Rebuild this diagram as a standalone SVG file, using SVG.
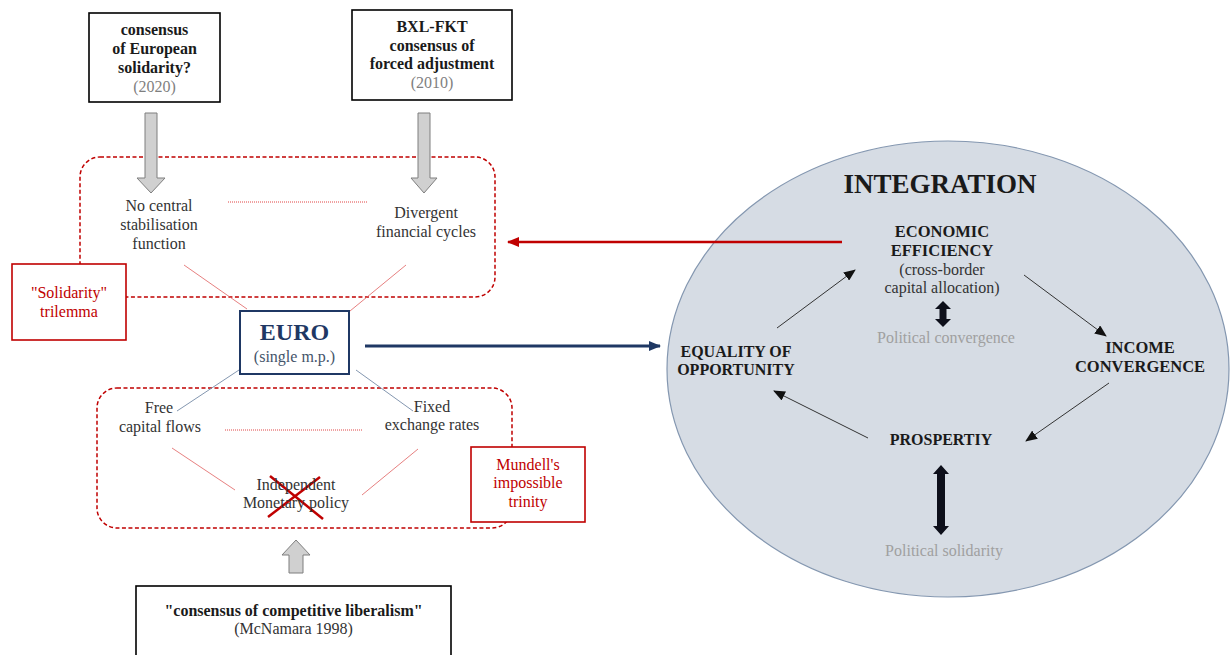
<svg xmlns="http://www.w3.org/2000/svg" width="1230" height="655" viewBox="0 0 1230 655">
<style>
text{font-family:"Liberation Serif","Times New Roman",serif;font-size:16px;fill:#333;text-anchor:middle}
.b{font-weight:bold;fill:#1a1a1a}
.g{fill:#7f7f7f}
.lg{fill:#a0a0a0}
.red{fill:#c00000}
.box{fill:#fff;stroke:#000;stroke-width:1.6}
.rbox{fill:#fff;stroke:#c00000;stroke-width:1.6}
.dash{fill:none;stroke:#c00000;stroke-width:1.5;stroke-dasharray:4 2.5}
.dot{stroke:#e04545;stroke-width:1;stroke-dasharray:1 1}
.thin{stroke:#e06060;stroke-width:0.8}
.bl{stroke:#8497b0;stroke-width:1}
.blk{stroke:#333;stroke-width:1;fill:none}
.gar{fill:#d0d0d0;stroke:#7f7f7f;stroke-width:1}
.dbl{fill:#0d0f1a}
</style>
<defs>
<marker id="mk" markerUnits="userSpaceOnUse" markerWidth="12" markerHeight="10" refX="11" refY="5" orient="auto"><path d="M0,0 L12,5 L0,10 z" fill="#111"/></marker>
<marker id="mr" markerUnits="userSpaceOnUse" markerWidth="12" markerHeight="10" refX="11" refY="5" orient="auto"><path d="M0,0 L12,5 L0,10 z" fill="#c00000"/></marker>
<marker id="mn" markerUnits="userSpaceOnUse" markerWidth="12" markerHeight="10" refX="11" refY="5" orient="auto"><path d="M0,0 L12,5 L0,10 z" fill="#1f3864"/></marker>
</defs>

<g id="integration">
<ellipse cx="948" cy="369" rx="281" ry="228" fill="#d6dce4" stroke="#8497b0" stroke-width="1.2"/>
<text x="940" y="193" class="b" style="font-size:27px">INTEGRATION</text>
</g>

<g id="frames">
<rect x="80" y="157" width="415" height="140" rx="20" class="dash"/>
<rect x="97" y="388" width="415" height="140" rx="20" class="dash"/>
</g>

<g id="connectors">
<line x1="228" y1="202" x2="367" y2="202" class="dot"/>
<line x1="184" y1="265" x2="247" y2="309" class="thin"/>
<line x1="406" y1="265" x2="350" y2="311" class="thin"/>
<line x1="225" y1="430" x2="363" y2="430" class="dot"/>
<line x1="172" y1="448" x2="235" y2="490" class="thin"/>
<line x1="418" y1="449" x2="362" y2="495" class="thin"/>
<line x1="239" y1="370" x2="177" y2="411" class="bl"/>
<line x1="356" y1="370" x2="413" y2="411" class="bl"/>
<line x1="270" y1="476" x2="323" y2="519" stroke="#c00000" stroke-width="2.5"/>
<line x1="320" y1="477" x2="268" y2="517" stroke="#c00000" stroke-width="2.5"/>
<polygon class="gar" points="145,113 157,113 157,178 165,178 151,193 137,178 145,178"/>
<polygon class="gar" points="418,113 430,113 430,178 437,178 424,193 411,178 418,178"/>
<polygon class="gar" points="289,573 303,573 303,555 310,555 296,540 282,555 289,555"/>
<line x1="842" y1="242" x2="508" y2="242" stroke="#c00000" stroke-width="2.5" marker-end="url(#mr)"/>
<line x1="365" y1="346" x2="660" y2="346" stroke="#1f3864" stroke-width="3" marker-end="url(#mn)"/>
<line x1="777" y1="328" x2="855" y2="270" class="blk" marker-end="url(#mk)"/>
<line x1="1024" y1="275" x2="1106" y2="336" class="blk" marker-end="url(#mk)"/>
<line x1="1109" y1="383" x2="1026" y2="441" class="blk" marker-end="url(#mk)"/>
<line x1="868" y1="438" x2="774" y2="391" class="blk" marker-end="url(#mk)"/>
<polygon class="dbl" points="943,301 951,309 946.5,309 946.5,319 951,319 943,327 935,319 939.5,319 939.5,309 935,309"/>
<polygon class="dbl" points="941,465 949,474 945,474 945,526 949,526 941,535 933,526 937,526 937,474 933,474"/>
</g>

<g id="box-solidarity2020">
<rect x="89" y="13" width="131" height="89" class="box"/>
<text x="154.5" y="35" class="b">consensus</text>
<text x="154.5" y="54" class="b">of European</text>
<text x="154.5" y="73" class="b">solidarity?</text>
<text x="154.5" y="92" class="g">(2020)</text>
</g>

<g id="box-bxl">
<rect x="352" y="10" width="160" height="90" class="box"/>
<text x="432" y="32" class="b">BXL-FKT</text>
<text x="432" y="51" class="b">consensus of</text>
<text x="432" y="69" class="b">forced adjustment</text>
<text x="432" y="88" class="g">(2010)</text>
</g>

<g id="no-central">
<text x="159" y="211">No central</text>
<text x="159" y="230">stabilisation</text>
<text x="159" y="249">function</text>
</g>

<g id="divergent">
<text x="426" y="218">Divergent</text>
<text x="426" y="237">financial cycles</text>
</g>

<g id="solidarity-trilemma">
<rect x="12" y="264" width="114" height="76" class="rbox"/>
<text x="69" y="298" class="red">"Solidarity"</text>
<text x="69" y="317" class="red">trilemma</text>
</g>

<g id="euro">
<rect x="240" y="311" width="109" height="63" fill="#fff" stroke="#1f3864" stroke-width="2"/>
<text x="294.5" y="340" style="font-size:24px;font-weight:bold;fill:#1f3864">EURO</text>
<text x="294.5" y="362" style="fill:#44546a">(single m.p.)</text>
</g>

<g id="free-capital">
<text x="159" y="413">Free</text>
<text x="160" y="432">capital flows</text>
</g>

<g id="fixed-rates">
<text x="432" y="412">Fixed</text>
<text x="432" y="430">exchange rates</text>
</g>

<g id="monetary-policy">
<text x="296" y="490">Independent</text>
<text x="296" y="508">Monetary policy</text>
</g>

<g id="mundell">
<rect x="471" y="447" width="114" height="75" class="rbox"/>
<text x="528" y="470" class="red">Mundell's</text>
<text x="528" y="488" class="red">impossible</text>
<text x="528" y="507" class="red">trinity</text>
</g>

<g id="box-competitive">
<rect x="136" y="586" width="315" height="80" class="box"/>
<text x="293.5" y="616" class="b">"consensus of competitive liberalism"</text>
<text x="293.5" y="634">(McNamara 1998)</text>
</g>

<g id="economic-efficiency">
<text x="942" y="237" class="b" style="font-size:16.5px">ECONOMIC</text>
<text x="942" y="256" class="b" style="font-size:16.5px">EFFICIENCY</text>
<text x="942" y="275">(cross-border</text>
<text x="942" y="293">capital allocation)</text>
<text x="946" y="343" class="lg">Political convergence</text>
</g>

<g id="equality">
<text x="736" y="357" class="b" style="font-size:16px">EQUALITY OF</text>
<text x="736" y="375" class="b" style="font-size:16px">OPPORTUNITY</text>
</g>

<g id="income-convergence">
<text x="1140" y="353" class="b" style="font-size:16.5px">INCOME</text>
<text x="1140" y="372" class="b" style="font-size:16.5px">CONVERGENCE</text>
</g>

<g id="prosperity">
<text x="941" y="445" class="b" style="font-size:16px">PROSPERTIY</text>
<text x="944" y="556" class="lg">Political solidarity</text>
</g>
</svg>
